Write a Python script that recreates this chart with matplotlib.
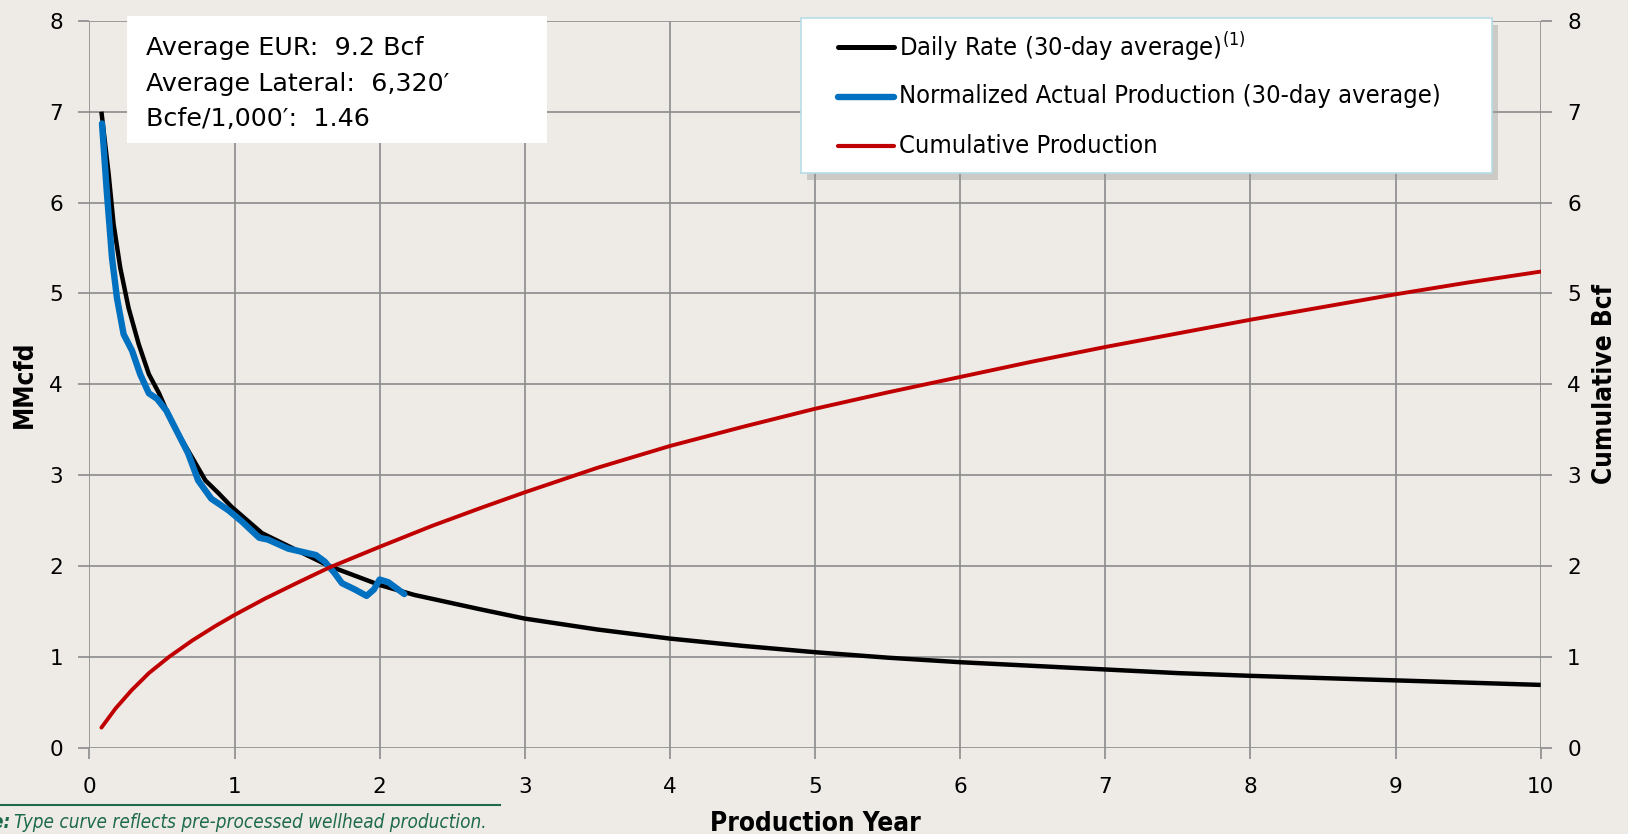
import matplotlib
matplotlib.use('Agg')
import matplotlib.pyplot as plt
from matplotlib import font_manager as fm
from matplotlib.lines import Line2D
from matplotlib.patches import Rectangle

plt.rcParams['mathtext.default'] = 'regular'

# Type curve: daily rate (MMcfd) by production year
rate_years = [0.083, 0.133, 0.167, 0.213, 0.27, 0.34, 0.41, 0.48, 0.57, 0.68, 0.8,
              0.89, 0.98, 1.19, 1.42, 1.65, 2.0, 2.24, 2.7, 3.0, 3.5, 4.0, 4.5,
              5.0, 5.5, 6.0, 6.5, 7.0, 7.5, 8.0, 8.5, 9.0, 9.5, 10.0]
rate_mmcfd = [7.0, 6.31, 5.76, 5.28, 4.84, 4.44, 4.11, 3.9, 3.57, 3.27, 2.94,
              2.8, 2.65, 2.36, 2.18, 2.0, 1.79, 1.68, 1.52, 1.42, 1.3, 1.2, 1.12,
              1.05, 0.99, 0.94, 0.9, 0.86, 0.82, 0.79, 0.765, 0.74, 0.715, 0.69]

# Normalized actual production (30-day average)
actual_years = [0.087, 0.12, 0.156, 0.19, 0.236, 0.294, 0.35, 0.41, 0.466, 0.53,
                0.6, 0.68, 0.75, 0.84, 0.96, 1.05, 1.17, 1.23, 1.37, 1.56, 1.62,
                1.69, 1.74, 1.83, 1.91, 1.96, 2.0, 2.06, 2.17]
actual_mmcfd = [6.87, 6.12, 5.39, 4.95, 4.55, 4.37, 4.11, 3.9, 3.84, 3.71,
                3.49, 3.24, 2.94, 2.74, 2.61, 2.49, 2.31, 2.29, 2.19, 2.12, 2.05,
                1.92, 1.81, 1.74, 1.67, 1.74, 1.85, 1.82, 1.69]

# Cumulative production (Bcf)
cum_years = [0.083, 0.18, 0.29, 0.41, 0.55, 0.71, 0.87, 1.0, 1.21, 1.44, 1.65, 2.0,
             2.36, 2.7, 3.0, 3.5, 4.0, 4.5, 5.0, 5.5, 6.0, 6.5, 7.0, 7.5, 8.0,
             8.5, 9.0, 9.5, 10.0]
cum_bcf = [0.22, 0.43, 0.63, 0.82, 1.0, 1.18, 1.34, 1.46, 1.64, 1.82, 1.98, 2.21,
           2.44, 2.64, 2.81, 3.08, 3.32, 3.53, 3.73, 3.91, 4.08, 4.25, 4.41, 4.56,
           4.71, 4.85, 4.99, 5.12, 5.24]

legend_labels = ['Daily Rate (30-day average)$^{(1)}$',
                 'Normalized Actual Production (30-day average)',
                 'Cumulative Production']
legend_colors = ['black', '#0070C0', '#C00000']
legend_widths = [3.6, 4.6, 3.0]
info_lines = ['Average EUR:  9.2 Bcf', 'Average Lateral:  6,320\u2032',
              'Bcfe/1,000\u2032:  1.46']

bg = '#EEEAE6'
grid_col = '#8C8C8C'
green = '#1E6B4B'


# pick a narrow face for the legend / axis titles if one is installed
def pick_narrow():
    for f in fm.fontManager.ttflist:
        if f.name == 'Liberation Sans Narrow':
            return 'Liberation Sans Narrow', 'normal', 1.12
    for f in fm.fontManager.ttflist:
        if f.name == 'DejaVu Sans' and str(f.stretch) in ('condensed', 'semi-condensed', '600', '700'):
            return 'DejaVu Sans', 'condensed', 0.98
    return 'Liberation Sans', 'normal', 0.92


narrow, stretch, k = pick_narrow()

fig = plt.figure(figsize=(16.28, 8.34), dpi=100, facecolor=bg)
ax = fig.add_axes([0.0549, 0.1036, 0.8915, 0.8714])
ax.set_facecolor(bg)
ax2 = ax.twinx()

ax.plot(rate_years, rate_mmcfd, color='black', lw=3.2, solid_capstyle='butt', zorder=3)
ax.plot(actual_years, actual_mmcfd, color='#0070C0', lw=4.6, solid_capstyle='round',
        solid_joinstyle='round', zorder=4)
ax2.plot(cum_years, cum_bcf, color='#C00000', lw=2.8, solid_capstyle='round', zorder=3)

for a in (ax, ax2):
    a.set_xlim(0, 10)
    a.set_ylim(0, 8)
    a.set_yticks(range(0, 9))
    for s in a.spines.values():
        s.set_visible(False)
ax.set_xticks(range(0, 11))
ax.grid(True, color=grid_col, lw=1.2)
ax.set_axisbelow(True)
ax.tick_params(axis='both', direction='out', length=8, width=1.2, color=grid_col,
               labelsize=15.5)
ax.tick_params(axis='y', pad=11)
ax.tick_params(axis='x', pad=13)
ax2.tick_params(axis='y', direction='out', length=8, width=1.2, color=grid_col,
                labelsize=15.5, pad=11)

lab = dict(fontsize=19.2 * k, fontweight='bold', family=narrow, fontstretch=stretch)
ax.set_ylabel('MMcfd', labelpad=8, **lab)
ax2.set_ylabel('Cumulative Bcf', labelpad=8, **lab)
ax.set_xlabel('Production Year', labelpad=10, **lab)

# info box
fig.patches.append(Rectangle((127 / 1628, 1 - 143 / 834), 420 / 1628, 127 / 834,
                             transform=fig.transFigure, facecolor='white',
                             edgecolor='none', zorder=5))
for i, t in enumerate(info_lines):
    fig.text(146 / 1628, 1 - (55 + 35.5 * i) / 834, t, fontsize=18.3, va='baseline',
             ha='left', zorder=6)

# legend box with shadow
fig.patches.append(Rectangle((807 / 1628, 1 - 180 / 834), 691 / 1628, 155 / 834,
                             transform=fig.transFigure, facecolor='#9a9a9a',
                             edgecolor='none', alpha=0.4, zorder=5))
fig.patches.append(Rectangle((801 / 1628, 1 - 173 / 834), 691 / 1628, 155 / 834,
                             transform=fig.transFigure, facecolor='white',
                             edgecolor='#B7DDE6', lw=1.2, zorder=5))
for i, (t, c, w) in enumerate(zip(legend_labels, legend_colors, legend_widths)):
    yy = 1 - (47 + 49.5 * i) / 834
    fig.add_artist(Line2D([838 / 1628, 894 / 1628], [yy, yy], transform=fig.transFigure,
                          color=c, lw=w, solid_capstyle='round', zorder=6))
    fig.text(899 / 1628, yy, t, fontsize=18.7 * k, family=narrow, fontstretch=stretch,
             va='center', ha='left', zorder=6)

# footnote (starts off the left edge, as in the source slide)
fig.add_artist(Line2D([0, 500 / 1628], [1 - 805 / 834, 1 - 805 / 834],
                      transform=fig.transFigure, color=green, lw=1.5))
fig.text(11 / 1628, 1 - 823 / 834, 'Note:', fontsize=13.9 * k, style='italic',
         fontweight='bold', color=green, family=narrow, fontstretch=stretch,
         ha='right', va='center')
fig.text(14 / 1628, 1 - 823 / 834, 'Type curve reflects pre-processed wellhead production.',
         fontsize=13.9 * k, style='italic', color=green, family=narrow, fontstretch=stretch,
         ha='left', va='center')

fig.savefig('out.png', dpi=100, facecolor=bg)
